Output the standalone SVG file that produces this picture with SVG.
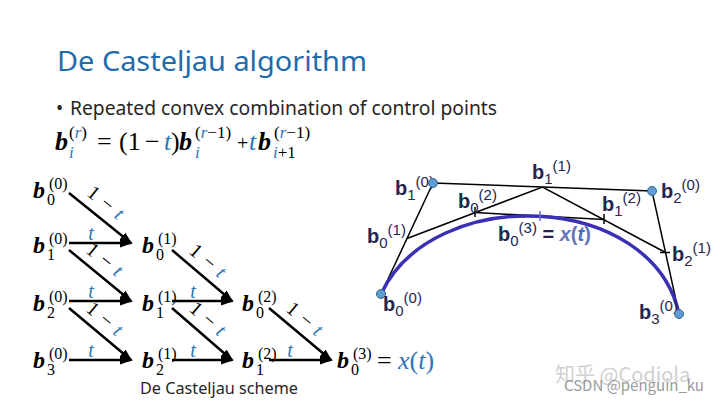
<svg xmlns="http://www.w3.org/2000/svg" width="720" height="405" viewBox="0 0 720 405">
<defs>
<marker id="ah" markerUnits="userSpaceOnUse" markerWidth="13" markerHeight="10" refX="11" refY="4.5" orient="auto">
<path d="M0,0 L13,4.5 L0,9 z" fill="#000"/>
</marker>
<style>
.sans{font-family:"Noto Sans","Liberation Sans",sans-serif}
.title{font-size:28px;fill:#1f6bab}
.body{font-size:19px;fill:#262626}
.fm{font-family:"Liberation Serif","DejaVu Serif",serif;font-size:26px;fill:#000}
.fb{font-family:"Liberation Serif","DejaVu Serif",serif;font-size:26px;font-weight:bold;font-style:italic;fill:#000}
.fs{font-family:"Liberation Serif","DejaVu Serif",serif;font-size:17px;fill:#000}
.bl{fill:#2e75b6;font-style:italic}
.sb{font-family:"Liberation Serif","DejaVu Serif",serif;font-size:24px;font-weight:bold;font-style:italic;fill:#000}
.ss{font-family:"Liberation Serif","DejaVu Serif",serif;font-size:16px;fill:#000}
.lt{font-family:"Liberation Serif","DejaVu Serif",serif;font-size:20px;font-style:italic;fill:#2e75b6;text-anchor:middle}
.lo{font-family:"Liberation Serif","DejaVu Serif",serif;font-size:20px;fill:#000;text-anchor:middle;letter-spacing:1px}
.ar{stroke:#000;stroke-width:2.5;fill:none;marker-end:url(#ah)}
.rl{font-family:"Liberation Sans",Arial,sans-serif;font-size:20px;font-weight:bold;fill:#25254d}
.rs{font-size:15px;font-weight:normal}
.poly{stroke:#000;stroke-width:1.5;fill:none}
.dot{fill:#5f9ccf;stroke:#35658f;stroke-width:1}
.wm{font-family:"Noto Sans CJK SC","Noto Sans",sans-serif}
</style>
</defs>
<rect width="720" height="405" fill="#fff"/>

<g id="title">
<text class="sans title" x="57" y="71" textLength="310" lengthAdjust="spacingAndGlyphs">De Casteljau algorithm</text>
</g>
<g id="bullet">
<text class="sans body" x="56" y="115">•</text>
<text class="sans body" x="70" y="115" textLength="427" lengthAdjust="spacingAndGlyphs">Repeated convex combination of control points</text>
</g>

<g id="formula">
<text class="fb" x="55" y="150">b</text>
<text class="fs" x="69" y="138">(<tspan class="bl">r</tspan>)</text>
<text class="fs bl" x="69" y="158">i</text>
<text class="fm" x="97" y="150">=</text>
<text class="fm" x="119" y="150">(1</text>
<text class="fm" x="145" y="150">−</text>
<text class="fm bl" x="164" y="150">t</text>
<text class="fm" x="171" y="150">)</text>
<text class="fb" x="179" y="150">b</text>
<text class="fs" x="195" y="138">(<tspan class="bl">r</tspan>−1)</text>
<text class="fs bl" x="195" y="158">i</text>
<text class="fm" x="237" y="150" style="font-size:20px">+</text>
<text class="fm bl" x="249" y="150">t</text>
<text class="fb" x="258" y="150">b</text>
<text class="fs" x="274" y="138">(<tspan class="bl">r</tspan>−1)</text>
<text class="fs" x="273" y="158"><tspan class="bl">i</tspan>+1</text>
</g>

<g id="scheme-connectors">
<line class="ar" x1="69" y1="193" x2="131" y2="243"/>
<line class="ar" x1="69" y1="243" x2="131" y2="243"/>
<line class="ar" x1="69" y1="250" x2="131" y2="301"/>
<line class="ar" x1="69" y1="301" x2="131" y2="301"/>
<line class="ar" x1="69" y1="308" x2="131" y2="360"/>
<line class="ar" x1="69" y1="360" x2="131" y2="360"/>
<line class="ar" x1="172" y1="250" x2="232" y2="301"/>
<line class="ar" x1="172" y1="301" x2="232" y2="301"/>
<line class="ar" x1="172" y1="308" x2="232" y2="360"/>
<line class="ar" x1="172" y1="360" x2="232" y2="360"/>
<line class="ar" x1="269" y1="308" x2="331" y2="360"/>
<line class="ar" x1="269" y1="360" x2="331" y2="360"/>
<text class="lt" x="91" y="240">t</text>
<text class="lt" x="91" y="298">t</text>
<text class="lt" x="91" y="357">t</text>
<text class="lt" x="193" y="298">t</text>
<text class="lt" x="193" y="357">t</text>
<text class="lt" x="290" y="357">t</text>
<text class="lo" transform="translate(102,208) rotate(38.9)">1 − <tspan class="bl">t</tspan></text>
<text class="lo" transform="translate(101,265) rotate(39.4)">1 − <tspan class="bl">t</tspan></text>
<text class="lo" transform="translate(101,324) rotate(40)">1 − <tspan class="bl">t</tspan></text>
<text class="lo" transform="translate(204,266) rotate(40.4)">1 − <tspan class="bl">t</tspan></text>
<text class="lo" transform="translate(204,324) rotate(40.9)">1 − <tspan class="bl">t</tspan></text>
<text class="lo" transform="translate(301,324) rotate(40)">1 − <tspan class="bl">t</tspan></text>
</g>

<g id="n-b00"><text class="sb" x="33" y="198">b</text><text class="ss" x="47" y="205">0</text><text class="ss" x="49" y="189">(0)</text></g>
<g id="n-b10"><text class="sb" x="33" y="253">b</text><text class="ss" x="47" y="260">1</text><text class="ss" x="49" y="244">(0)</text></g>
<g id="n-b20"><text class="sb" x="33" y="311">b</text><text class="ss" x="47" y="318">2</text><text class="ss" x="49" y="302">(0)</text></g>
<g id="n-b30"><text class="sb" x="33" y="368">b</text><text class="ss" x="47" y="375">3</text><text class="ss" x="49" y="359">(0)</text></g>
<g id="n-b01"><text class="sb" x="142" y="253">b</text><text class="ss" x="156" y="260">0</text><text class="ss" x="158" y="244">(1)</text></g>
<g id="n-b11"><text class="sb" x="142" y="311">b</text><text class="ss" x="156" y="318">1</text><text class="ss" x="158" y="302">(1)</text></g>
<g id="n-b21"><text class="sb" x="142" y="368">b</text><text class="ss" x="156" y="375">2</text><text class="ss" x="158" y="359">(1)</text></g>
<g id="n-b02"><text class="sb" x="242" y="311">b</text><text class="ss" x="256" y="318">0</text><text class="ss" x="258" y="302">(2)</text></g>
<g id="n-b12"><text class="sb" x="242" y="368">b</text><text class="ss" x="256" y="375">1</text><text class="ss" x="258" y="359">(2)</text></g>
<g id="n-b03"><text class="sb" x="337" y="368">b</text><text class="ss" x="351" y="375">0</text><text class="ss" x="353" y="359">(3)</text><text class="fm" x="377" y="369">=</text><text class="fm" x="398" y="369" style="fill:#2e75b6"><tspan font-style="italic">x</tspan>(<tspan font-style="italic">t</tspan>)</text></g>
<g id="caption"><text class="sans" x="140" y="394" font-size="16" fill="#262626" textLength="158" lengthAdjust="spacingAndGlyphs">De Casteljau scheme</text></g>

<g id="figure">
<polyline class="poly" points="381,294 433,183 652,191 679,314"/>
<polyline class="poly" points="407,238.5 542.5,187 665.5,252.5"/>
<line class="poly" x1="475" y1="212.5" x2="604" y2="219.5"/>
<path d="M381,294 C433,183 652,191 679,314" fill="none" stroke="#3a30b4" stroke-width="3.5"/>
<line class="poly" x1="475" y1="207" x2="475" y2="217"/>
<line class="poly" x1="604" y1="214" x2="604" y2="224"/>
<line class="poly" x1="660" y1="252.5" x2="670" y2="252.5"/>
<line x1="540" y1="211" x2="540" y2="221" stroke="#6a6fd0" stroke-width="1.5"/>
</g>

<g id="p-b00"><circle class="dot" cx="381" cy="294" r="4.5"/><text class="rl" x="383" y="311">b<tspan class="rs" dy="5">0</tspan><tspan class="rs" dy="-13">(0)</tspan></text></g>
<g id="p-b10"><text class="rl" x="395" y="195">b<tspan class="rs" dy="5">1</tspan><tspan class="rs" dy="-13">(0)</tspan></text><circle class="dot" cx="433" cy="183" r="4.5"/></g>
<g id="p-b20"><circle class="dot" cx="652" cy="191" r="4.5"/><text class="rl" x="661" y="198">b<tspan class="rs" dy="5">2</tspan><tspan class="rs" dy="-13">(0)</tspan></text></g>
<g id="p-b30"><text class="rl" x="639" y="319">b<tspan class="rs" dy="5">3</tspan><tspan class="rs" dy="-13">(0)</tspan></text><circle class="dot" cx="679" cy="314" r="4.5"/></g>
<g id="p-b01"><text class="rl" x="367" y="243">b<tspan class="rs" dy="5">0</tspan><tspan class="rs" dy="-13">(1)</tspan></text></g>
<g id="p-b11"><text class="rl" x="532" y="179">b<tspan class="rs" dy="5">1</tspan><tspan class="rs" dy="-13">(1)</tspan></text></g>
<g id="p-b21"><text class="rl" x="672" y="261">b<tspan class="rs" dy="5">2</tspan><tspan class="rs" dy="-13">(1)</tspan></text></g>
<g id="p-b02"><text class="rl" x="458" y="208">b<tspan class="rs" dy="5">0</tspan><tspan class="rs" dy="-13">(2)</tspan></text></g>
<g id="p-b12"><text class="rl" x="602" y="211">b<tspan class="rs" dy="5">1</tspan><tspan class="rs" dy="-13">(2)</tspan></text></g>
<g id="p-b03"><text class="rl" x="498" y="241">b<tspan class="rs" dy="5">0</tspan><tspan class="rs" dy="-13">(3)</tspan><tspan dy="8"> = </tspan><tspan fill="#6674b8" font-style="italic">x</tspan><tspan fill="#6674b8">(</tspan><tspan fill="#4a6fc0" font-style="italic">t</tspan><tspan fill="#6674b8">)</tspan></text></g>

<g id="watermark">
<text class="wm" x="555" y="382" font-size="20" fill="#c8c8c8" opacity="0.85">知乎 @Codiola</text>
<text class="wm" x="564" y="391" font-size="15" fill="#9a9a9a">CSDN @penguin_ku</text>
</g>
</svg>
